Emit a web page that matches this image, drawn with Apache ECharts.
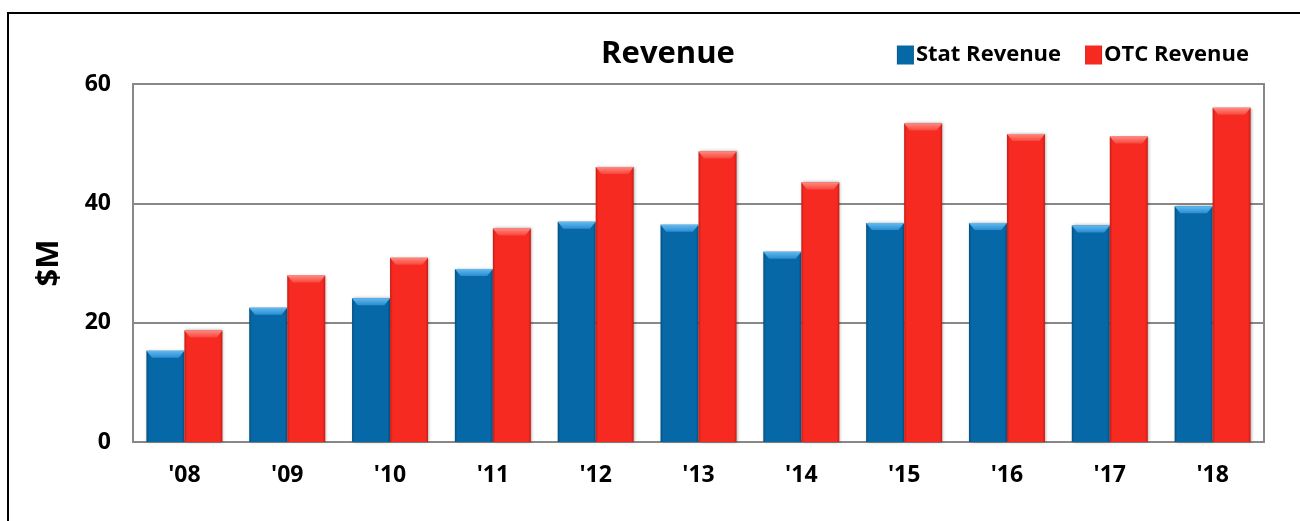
<!DOCTYPE html>
<html>
<head>
<meta charset="utf-8">
<script src="https://cdn.jsdelivr.net/npm/echarts@6/dist/echarts.min.js"></script>
<style>
  html, body { margin: 0; padding: 0; background: #fff; }
  #chart { width: 1300px; height: 521px; }
</style>
</head>
<body>
<div id="chart"></div>
<script>
const years = ["'08", "'09", "'10", "'11", "'12", "'13", "'14", "'15", "'16", "'17", "'18"]
const statRevenue = [15.3, 22.5, 24.1, 29.0, 36.9, 36.4, 31.9, 36.7, 36.7, 36.3, 39.5]
const otcRevenue = [18.7, 27.9, 30.9, 35.8, 46.1, 48.7, 43.5, 53.4, 51.6, 51.2, 56.0]
const yTicks = [0, 20, 40, 60]

const fontFamily = '"Open Sans", "Noto Sans", sans-serif'

// bevelled look: darker edges, flat middle
function barFill(edge, mid) {
  return new echarts.graphic.LinearGradient(0, 0, 1, 0, [
    { offset: 0, color: edge },
    { offset: 0.07, color: mid },
    { offset: 0.93, color: mid },
    { offset: 1, color: edge }
  ])
}

function capFill(top, bottom) {
  return new echarts.graphic.LinearGradient(0, 0, 0, 1, [
    { offset: 0, color: top },
    { offset: 1, color: bottom }
  ])
}

// lighter cap on top of each bar
const capPath = 'path://M0,0 L20,0 L17,4 L3,4 Z'

const chart = echarts.init(document.getElementById('chart'))

chart.setOption({
  animation: false,
  title: {
    text: 'Revenue',
    left: 663,
    top: 34,
    textAlign: 'center',
    textStyle: { fontFamily, fontSize: 31, fontWeight: 'bold', color: '#000' }
  },
  legend: {
    right: 46,
    top: 39,
    itemWidth: 17,
    itemHeight: 19,
    itemGap: 24,
    icon: 'rect',
    textStyle: { fontFamily, fontSize: 22, fontWeight: 'bold', color: '#000', padding: [0, 0, 0, -3] },
    data: ['Stat Revenue', 'OTC Revenue']
  },
  graphic: [
    {
      type: 'rect',
      shape: { x: 8, y: 13, width: 1320, height: 540 },
      style: { fill: 'none', stroke: '#000', lineWidth: 2 },
      silent: true
    }
  ],
  grid: {
    left: 133,
    right: 36,
    top: 84,
    bottom: 79,
    show: true,
    borderColor: '#888',
    borderWidth: 2
  },
  xAxis: {
    type: 'category',
    data: years,
    axisTick: { show: false },
    axisLine: { lineStyle: { color: '#888', width: 2 } },
    axisLabel: { fontFamily, fontSize: 23, fontWeight: 'bold', color: '#000', margin: 22 }
  },
  yAxis: {
    type: 'value',
    min: yTicks[0],
    max: yTicks[yTicks.length - 1],
    interval: 20,
    name: '$M',
    nameLocation: 'middle',
    nameGap: 68,
    nameTextStyle: { fontFamily, fontSize: 31, fontWeight: 'bold', color: '#000' },
    axisLine: { show: true, lineStyle: { color: '#888', width: 2 } },
    axisTick: { show: false },
    splitLine: { lineStyle: { color: '#888', width: 2 } },
    axisLabel: { fontFamily, fontSize: 23, fontWeight: 'bold', color: '#000', margin: 22 }
  },
  series: [
    {
      name: 'Stat Revenue',
      type: 'bar',
      data: statRevenue,
      barWidth: 38,
      barGap: '0%',
      color: '#0767a6',
      itemStyle: {
        color: barFill('#04507f', '#0768a8'),
        shadowColor: 'rgba(0,0,0,0.35)',
        shadowBlur: 3,
        shadowOffsetX: 1
      }
    },
    {
      name: 'OTC Revenue',
      type: 'bar',
      data: otcRevenue,
      barWidth: 38,
      barGap: '0%',
      color: '#f52a22',
      itemStyle: {
        color: barFill('#c41d16', '#f72a21'),
        shadowColor: 'rgba(0,0,0,0.35)',
        shadowBlur: 3,
        shadowOffsetX: 1
      }
    },
    {
      name: 'statCap',
      type: 'pictorialBar',
      data: statRevenue,
      barWidth: 38,
      barGap: '0%',
      symbol: capPath,
      symbolSize: [38, 7],
      symbolPosition: 'end',
      z: 3,
      silent: true,
      itemStyle: { color: capFill('#62bbf0', '#2b8cd2') }
    },
    {
      name: 'otcCap',
      type: 'pictorialBar',
      data: otcRevenue,
      barWidth: 38,
      barGap: '0%',
      symbol: capPath,
      symbolSize: [38, 7],
      symbolPosition: 'end',
      z: 3,
      silent: true,
      itemStyle: { color: capFill('#ff8a80', '#f8473e') }
    }
  ]
})
</script>
</body>
</html>
